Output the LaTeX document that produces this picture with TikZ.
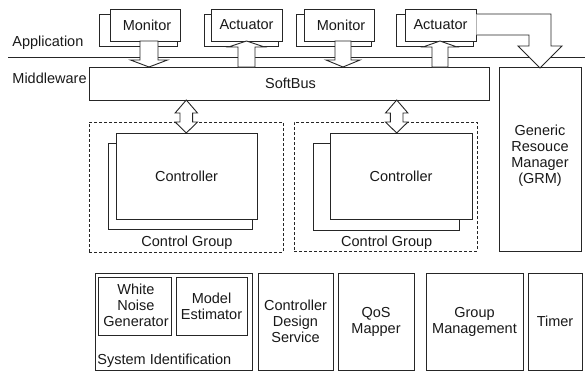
\documentclass[tikz,border=0pt]{standalone}
\usepackage{fontspec}
\setmainfont{Liberation Sans}
\newcommand\dfont{\fontsize{14.5}{16}\selectfont}
\newcommand\blkarrow[6]{% cx, ystart, ybase, ytip, shaft half, head half
  \filldraw[blk] (#1-#5,#2) -- (#1-#5,#3) -- (#1-#6,#3) -- (#1,#4) -- (#1+#6,#3) -- (#1+#5,#3) -- (#1+#5,#2) -- cycle;}
\newcommand\dblarrow[1]{%
  \filldraw[blk] (#1,100) -- (#1+11.2,113) -- (#1+6.3,113) -- (#1+6.3,122) -- (#1+11.2,122) -- (#1,133)
     -- (#1-11.2,122) -- (#1-6.3,122) -- (#1-6.3,113) -- (#1-11.2,113) -- cycle;}
\begin{document}
\begin{tikzpicture}[x=1pt,y=-1pt,line width=0.9pt,
  box/.style={draw=black!85,fill=white,rectangle,inner sep=0pt,align=center,font=\dfont,text=black!90},
  dbox/.style={draw=black!85,rectangle,inner sep=0pt,dash pattern=on 3pt off 2pt},
  lbl/.style={inner sep=0pt,font=\dfont,text=black!90,align=center},
  blk/.style={draw=black!85,fill=white,line join=miter}]
\useasboundingbox (0,0) rectangle (585,373);

% layer separator
\coordinate (sepL) at (8,57.3);
\coordinate (sepR) at (585,57.3);
\draw[black!85] (sepL) -- (sepR);
\node[lbl,anchor=west] (app) at (12,42.5) {Application};
\node[lbl,anchor=west] (mid) at (12,78.3) {Middleware};

% application components
\node[box,minimum width=78,minimum height=32] (mon1b) at (138,30) {};
\node[box,minimum width=70,minimum height=32] (mon1) at (145,25) {\hspace*{4pt}Monitor};
\node[box,minimum width=74,minimum height=32] (act1b) at (241,30) {};
\node[box,minimum width=71,minimum height=32] (act1) at (246.5,25) {Actuator};
\node[box,minimum width=75,minimum height=32] (mon2b) at (333.5,30) {};
\node[box,minimum width=70,minimum height=32] (mon2) at (339,25) {\hspace*{4pt}Monitor};
\node[box,minimum width=77,minimum height=32] (act2b) at (434.5,30) {};
\node[box,minimum width=71,minimum height=32] (act2) at (440.5,25) {Actuator};

% middleware
\node[box,minimum width=400,minimum height=33] (bus) at (289,83.5) {\hspace*{3pt}SoftBus};
\node[box,minimum width=82,minimum height=184] (grm) at (540,159) {};
\node[lbl] (grmt) at (540,156) {Generic\\Resouce\\Manager\\(GRM)};

% block arrows
\blkarrow{149}{41}{60}{67}{9}{18.5}
\blkarrow{343}{41}{60}{67}{8}{17}
\blkarrow{246.5}{67}{47}{41}{8.5}{18}
\blkarrow{440}{67}{47}{41}{8}{17}
\filldraw[blk] (act2.east |- 0,14) -- (551,14) -- (551,46) -- (562,46) -- (540,68) -- (518,46) -- (529,46) -- (529,35) -- (act2.east |- 0,35);

% control groups
\node[dbox,minimum width=194,minimum height=130] (cg1) at (186,187) {};
\node[box,minimum width=144,minimum height=86] (ctl1b) at (180,186) {};
\node[box,minimum width=141,minimum height=86] (ctl1) at (186.5,176) {Controller};
\node[lbl] (cg1t) at (187,242.7) {Control Group};
\node[dbox,minimum width=183,minimum height=129] (cg2) at (385.5,186.5) {};
\node[box,minimum width=146,minimum height=87] (ctl2b) at (386,186.5) {};
\node[box,minimum width=142,minimum height=86] (ctl2) at (401,176) {Controller};
\node[lbl] (cg2t) at (386.7,242.7) {Control Group};
\dblarrow{186.3}
\dblarrow{396.7}

% services
\node[box,minimum width=157,minimum height=97] (sysid) at (173.5,321.5) {};
\node[box,minimum width=73,minimum height=58] (wng) at (134.5,306) {};
\node[lbl] (wngt) at (136,305) {White\\Noise\\Generator};
\node[box,minimum width=71,minimum height=58] (me) at (211.5,306) {};
\node[lbl] (met) at (211.5,306) {Model\\Estimator};
\node[lbl,anchor=west] (sysidt) at (97,361) {System Identification};
\node[box,minimum width=75,minimum height=97] (cds) at (295.5,321.5) {Controller\\Design\\Service};
\node[box,minimum width=76,minimum height=97] (qos) at (376,321.5) {QoS\\Mapper};
\node[box,minimum width=97,minimum height=97] (gm) at (474.5,321.5) {Group\\Management};
\node[box,minimum width=54,minimum height=97] (timer) at (555,321.5) {Timer};
\end{tikzpicture}
\end{document}
